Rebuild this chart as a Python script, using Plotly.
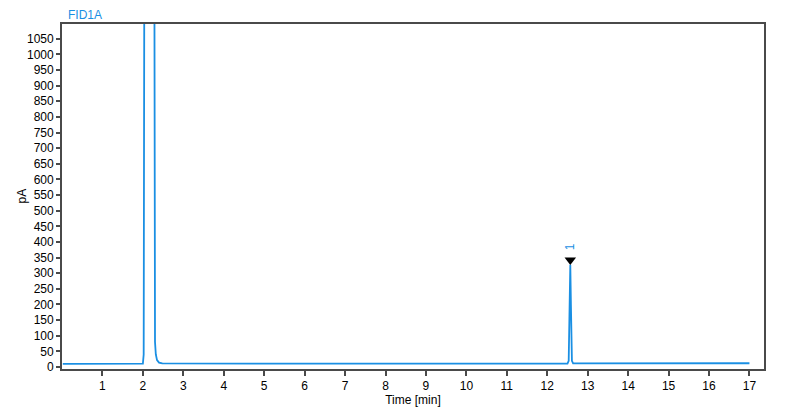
import plotly.graph_objects as go

# Chromatogram points (time in min, signal in pA)
time_min = [0.02, 1.00, 2.00, 2.02, 2.04, 2.28, 2.29, 2.30, 2.32, 2.35, 2.40, 2.48,
            5.00, 8.45, 8.50, 8.55, 12.00, 12.50, 12.53, 12.555, 12.57, 12.585,
            12.61, 12.64, 15.00, 17.00]
signal_pa = [10.0, 10.0, 10.5, 40, 1600, 1600, 300, 80, 40, 22, 14, 11.5,
             11.0, 11.0, 12.5, 11.0, 11.0, 11.0, 20, 200, 327, 200,
             20, 11.5, 12.0, 12.0]

peak_labels = ["1"]
peak_times = [12.57]
peak_marker_y = [342]
x_ticks = list(range(1, 18))
y_ticks = list(range(0, 1051, 50))

blue = "#1a8fe3"
axis_col = "#4a4a4a"
fam = "Liberation Sans, Arial"

fig = go.Figure()
fig.add_trace(go.Scatter(x=time_min, y=signal_pa, mode="lines",
                         line=dict(color=blue, width=1.8), showlegend=False,
                         hoverinfo="skip"))
fig.add_trace(go.Scatter(x=peak_times, y=peak_marker_y, mode="markers",
                         marker=dict(symbol="triangle-down", size=10, color="black"),
                         showlegend=False, hoverinfo="skip"))
for lab, t, yv in zip(peak_labels, peak_times, peak_marker_y):
    fig.add_annotation(x=t, y=yv, text=lab, showarrow=False, textangle=-90,
                       yshift=13, font=dict(color=blue, size=12, family=fam))

fig.add_annotation(xref="paper", yref="paper", x=0.0, y=1.0, xanchor="left",
                   yanchor="middle", xshift=4, yshift=9, text="FID1A",
                   showarrow=False, font=dict(color=blue, size=12, family=fam))
fig.add_annotation(xref="paper", yref="paper", x=0.0, y=0.5, xanchor="center",
                   yanchor="middle", xshift=-41, text="pA", textangle=-90,
                   showarrow=False, font=dict(color="black", size=12, family=fam))

fig.update_layout(
    width=792, height=406,
    margin=dict(l=54, r=36, t=16, b=45),
    paper_bgcolor="white", plot_bgcolor="white",
    font=dict(family=fam, size=12, color="black"),
    xaxis=dict(range=[0.0, 17.36], tickvals=x_ticks, ticktext=[str(v) for v in x_ticks],
               ticks="outside", ticklen=5, tickwidth=1.5, tickcolor=axis_col,
               showline=True, linecolor=axis_col, linewidth=1.8, mirror=True,
               showgrid=False, zeroline=False, automargin=False,
               title=dict(text="Time [min]", standoff=0, font=dict(size=12))),
    yaxis=dict(range=[-6.4, 1097], tickvals=y_ticks, ticktext=[str(v) for v in y_ticks],
               ticks="outside", ticklen=4, tickwidth=1.5, tickcolor=axis_col,
               showline=True, linecolor=axis_col, linewidth=1.8, mirror=True,
               showgrid=False, zeroline=False, automargin=False),
)

fig.write_html("out.html")
